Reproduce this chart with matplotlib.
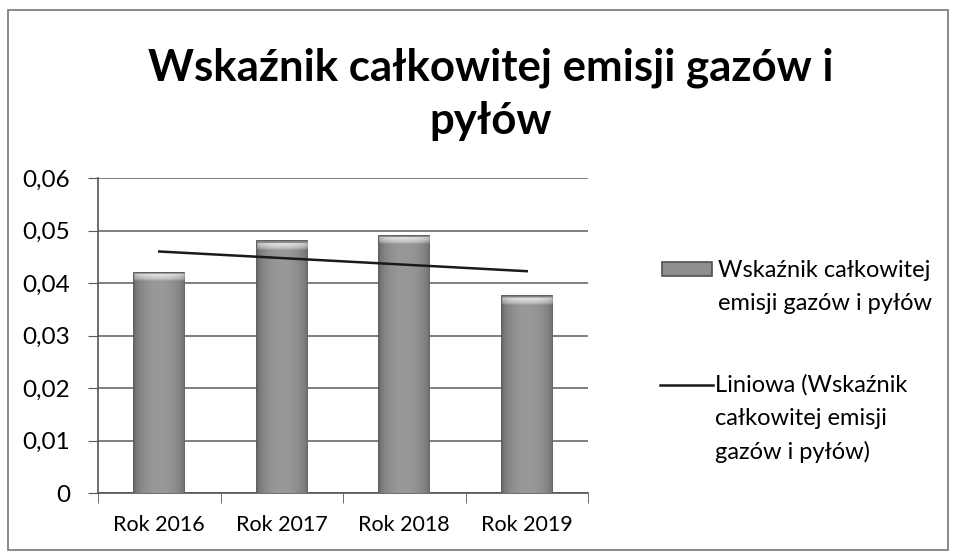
import numpy as np
import matplotlib
matplotlib.use('Agg')
import matplotlib.pyplot as plt
from matplotlib.patches import Rectangle
from matplotlib.lines import Line2D
from matplotlib.ticker import FuncFormatter

plt.rcParams['font.family'] = ['Lato', 'DejaVu Sans']

# data
categories = ['Rok 2016', 'Rok 2017', 'Rok 2018', 'Rok 2019']
values = [0.042, 0.048, 0.049, 0.0375]
title = 'Wskaźnik całkowitej emisji gazów i\npyłów'
series_label = ['Wskaźnik całkowitej', 'emisji gazów i pyłów']
trend_label = ['Liniowa (Wskaźnik', 'całkowitej emisji', 'gazów i pyłów)']

W, H = 955, 560
fig = plt.figure(figsize=(W / 100, H / 100), dpi=100)


def fx(px):
    return px / W


def fy(py):
    return 1 - py / H


# outer chart frame
fig.patches.append(Rectangle((fx(8), fy(550)), fx(940), 540 / H, transform=fig.transFigure,
                             fill=False, edgecolor='#777777', linewidth=1.2))

ax = fig.add_axes([fx(98), fy(493), fx(588 - 98), (493 - 178) / H])

x = np.arange(len(categories))
bar_w = 0.41
bars = ax.bar(x, values, width=bar_w, color='#8f8f8f', edgecolor='#505050',
              linewidth=1.3, zorder=3)

# shading: darker sides, light cap at the top
cols = np.linspace(0, 1, 60)
side = 0.40 + 0.20 * np.sin(np.pi * cols) ** 0.5
cap_h = 0.0016
for b in bars:
    x0, w, h = b.get_x(), b.get_width(), b.get_height()
    rows = np.linspace(0, h, 400)
    cap = np.clip((rows - (h - cap_h)) / cap_h, 0, 1) ** 0.5
    cap_row = 0.93 - 0.25 * (1 - np.sin(np.pi * cols) ** 0.3)
    shade = side[None, :] * (1 - cap[:, None]) + cap_row[None, :] * cap[:, None]
    shade[rows > h - 0.00025] = 0.5
    rgb = np.dstack([shade, shade, shade])
    im = ax.imshow(rgb, extent=[x0, x0 + w, 0, h], aspect='auto', zorder=3.5,
                   origin='lower', interpolation='bilinear')
    im.set_clip_path(b)

# linear trend
coef = np.polyfit(x + 1, values, 1)
trend = np.polyval(coef, x + 1)
ax.plot(x, trend, color='#1a1a1a', linewidth=1.8, zorder=5)

ax.set_xlim(-0.5, len(categories) - 0.5)
ax.set_ylim(0, 0.06)
ax.set_yticks(np.arange(0, 0.061, 0.01))
ax.yaxis.set_major_formatter(FuncFormatter(
    lambda v, p: '0' if abs(v) < 1e-9 else f'{v:.2f}'.replace('.', ',')))
ax.set_xticks(x)
ax.set_xticklabels(categories)
ax.set_xticks(np.arange(-0.5, len(categories)), minor=True)
ax.tick_params(axis='x', which='major', length=0, pad=16, labelsize=15.5)
ax.tick_params(axis='x', which='minor', length=7, color='#555555', direction='out')
ax.tick_params(axis='y', length=7, color='#555555', labelsize=17.5, pad=13)

ax.grid(axis='y', color='#6a6a6a', linewidth=1.2, zorder=0)
for s in ['top', 'right']:
    ax.spines[s].set_visible(False)
for s in ['left', 'bottom']:
    ax.spines[s].set_color('#555555')
    ax.spines[s].set_linewidth(1.2)

fig.text(fx(491), fy(94), title, ha='center', va='center', fontsize=31.5,
         fontweight='bold', linespacing=1.4)

# legend drawn by hand to keep the handle beside the first text line
fig.patches.append(Rectangle((fx(662), fy(276)), fx(50), 14 / H, transform=fig.transFigure,
                             facecolor='#8f8f8f', edgecolor='#505050', linewidth=1.2))
for i, line in enumerate(series_label):
    fig.text(fx(718), fy(270 + 33 * i), line, ha='left', va='center', fontsize=17)
fig.lines.append(Line2D([fx(660), fx(713)], [fy(385), fy(385)], transform=fig.transFigure,
                        color='#1a1a1a', linewidth=1.8))
for i, line in enumerate(trend_label):
    fig.text(fx(715), fy(385 + 33.5 * i), line, ha='left', va='center', fontsize=17)

fig.savefig('out.png', dpi=100)
